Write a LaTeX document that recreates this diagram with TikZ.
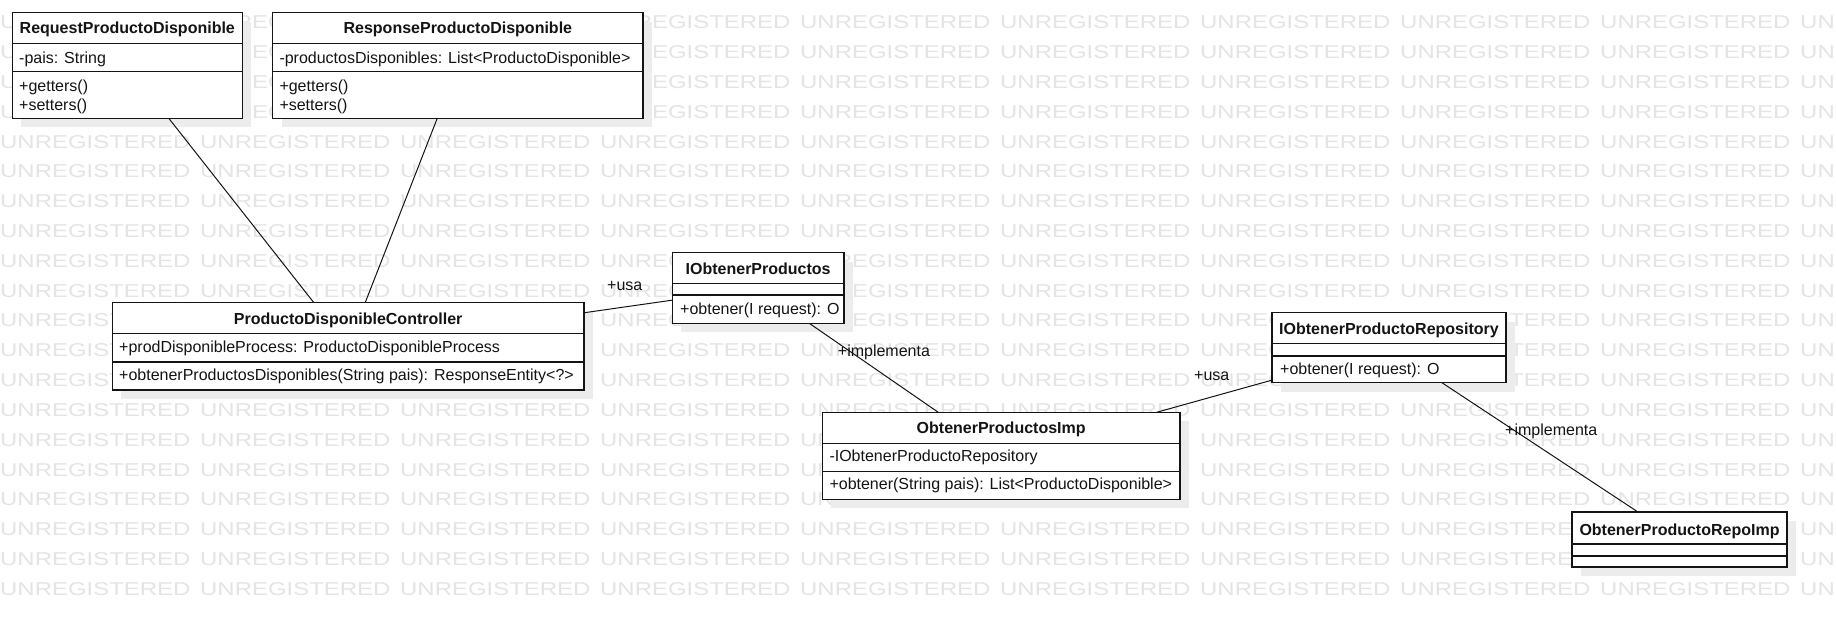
\documentclass[tikz,border=0pt]{standalone}
\usepackage{fontspec}
\setmainfont{Liberation Sans}
\newfontfamily\wmfont[FakeStretch=1.287]{Liberation Sans}
\usetikzlibrary{shadows,calc}
\definecolor{wmgray}{RGB}{228,228,228}
\definecolor{shadowgray}{RGB}{236,236,236}
\definecolor{ink}{RGB}{20,20,20}

\begin{document}
\begin{tikzpicture}[x=1pt,y=-1pt,
  classbox/.style={draw=ink, line width=1.2pt, fill=white, inner sep=0pt, outer sep=0pt,
    drop shadow={shadow xshift=9pt, shadow yshift=-9pt, fill=shadowgray, opacity=1}},
  classname/.style={font=\fontsize{16}{19}\selectfont\bfseries, text=ink, anchor=base, inner sep=0pt},
  member/.style={font=\fontsize{16}{19}\selectfont, text=ink, anchor=base west, inner sep=0pt},
  role/.style={font=\fontsize{16}{19}\selectfont, text=ink, anchor=base west, inner sep=0pt},
  link/.style={draw=ink, line width=1pt},
  compart/.style={draw=ink, line width=1.2pt},
  wm/.style={font=\wmfont\fontsize{18.6}{18.6}\selectfont, text=wmgray, anchor=base west, inner sep=0pt}
]
\useasboundingbox (0,0) rectangle (1836,617);
\fill[white] (0,0) rectangle (1836,617);

% background watermark
\foreach \i in {0,...,19} {
  \foreach \j in {0,...,9} {
    \node[wm] (wm-\i-\j) at (200*\j, 29+29.8*\i) {UNREGISTERED};
  }
}

% ---------- classes ----------
% RequestProductoDisponible
\node[classbox, minimum width=230pt, minimum height=105.6pt] (req) at (127.3,65.5) {};
\draw[compart] ($(req.north west)+(0,30.6)$) -- ($(req.north east)+(0,30.6)$);
\draw[compart] ($(req.north west)+(0,59.0)$) -- ($(req.north east)+(0,59.0)$);
\node[classname] (req-name) at (127.3,34) {RequestProductoDisponible};
\node[member] (req-a1) at (19,63.5) {-pais: String};
\node[member] (req-m1) at (19,91.7) {+getters()};
\node[member] (req-m2) at (19,111) {+setters()};

% ResponseProductoDisponible
\node[classbox, minimum width=370.3pt, minimum height=105.6pt] (resp) at (457.85,65.5) {};
\draw[compart] ($(resp.north west)+(0,30.6)$) -- ($(resp.north east)+(0,30.6)$);
\draw[compart] ($(resp.north west)+(0,59.0)$) -- ($(resp.north east)+(0,59.0)$);
\node[classname] (resp-name) at (457.85,34) {ResponseProductoDisponible};
\node[member] (resp-a1) at (279.3,63.5) {-productosDisponibles: List<ProductoDisponible>};
\node[member] (resp-m1) at (279.3,91.7) {+getters()};
\node[member] (resp-m2) at (279.3,111) {+setters()};

% ProductoDisponibleController
\node[classbox, minimum width=471.7pt, minimum height=87.3pt] (ctrl) at (348.15,346.35) {};
\draw[compart] ($(ctrl.north west)+(0,30.6)$) -- ($(ctrl.north east)+(0,30.6)$);
\draw[compart] ($(ctrl.north west)+(0,59.3)$) -- ($(ctrl.north east)+(0,59.3)$);
\node[classname] (ctrl-name) at (348.15,324.3) {ProductoDisponibleController};
\node[member] (ctrl-a1) at (119,352.7) {+prodDisponibleProcess: ProductoDisponibleProcess};
\node[member] (ctrl-m1) at (119,381) {+obtenerProductosDisponibles(String pais): ResponseEntity<?>};

% IObtenerProductos
\node[classbox, minimum width=171.7pt, minimum height=70.6pt] (iop) at (758.15,288) {};
\draw[compart] ($(iop.north west)+(0,30.6)$) -- ($(iop.north east)+(0,30.6)$);
\draw[compart] ($(iop.north west)+(0,42.3)$) -- ($(iop.north east)+(0,42.3)$);
\node[classname] (iop-name) at (758.15,274.3) {IObtenerProductos};
\node[member] (iop-m1) at (680,315) {+obtener(I request): O};

% ObtenerProductosImp
\node[classbox, minimum width=357.7pt, minimum height=87pt] (imp) at (1001.15,455.8) {};
\draw[compart] ($(imp.north west)+(0,31)$) -- ($(imp.north east)+(0,31)$);
\draw[compart] ($(imp.north west)+(0,59.4)$) -- ($(imp.north east)+(0,59.4)$);
\node[classname] (imp-name) at (1001.15,433.3) {ObtenerProductosImp};
\node[member] (imp-a1) at (829.3,461.7) {-IObtenerProductoRepository};
\node[member] (imp-m1) at (829.3,489.3) {+obtener(String pais): List<ProductoDisponible>};

% IObtenerProductoRepository
\node[classbox, minimum width=234pt, minimum height=70pt] (repo) at (1389,347.7) {};
\draw[compart] ($(repo.north west)+(0,30.6)$) -- ($(repo.north east)+(0,30.6)$);
\draw[compart] ($(repo.north west)+(0,43.3)$) -- ($(repo.north east)+(0,43.3)$);
\node[classname] (repo-name) at (1389,335) {IObtenerProductoRepository};
\node[member] (repo-m1) at (1280,374.5) {+obtener(I request): O};

% ObtenerProductoRepoImp
\node[classbox, minimum width=215pt, minimum height=55pt] (rimp) at (1679.5,539.5) {};
\draw[compart] ($(rimp.north west)+(0,32)$) -- ($(rimp.north east)+(0,32)$);
\draw[compart] ($(rimp.north west)+(0,44)$) -- ($(rimp.north east)+(0,44)$);
\node[classname] (rimp-name) at (1679.5,535) {ObtenerProductoRepoImp};

% ---------- associations ----------
\draw[link] (req) -- (ctrl);
\draw[link] (resp) -- (ctrl);
\draw[link] (ctrl) -- (iop);
\draw[link] (iop) -- (imp);
\draw[link] (imp) -- (repo);
\draw[link] (repo) -- (rimp);

% role labels
\node[role] (usa1) at (607,291) {+usa};
\node[role] (impl1) at (837.7,356) {+implementa};
\node[role] (usa2) at (1194,381) {+usa};
\node[role] (impl2) at (1505,435.5) {+implementa};
\end{tikzpicture}
\end{document}
